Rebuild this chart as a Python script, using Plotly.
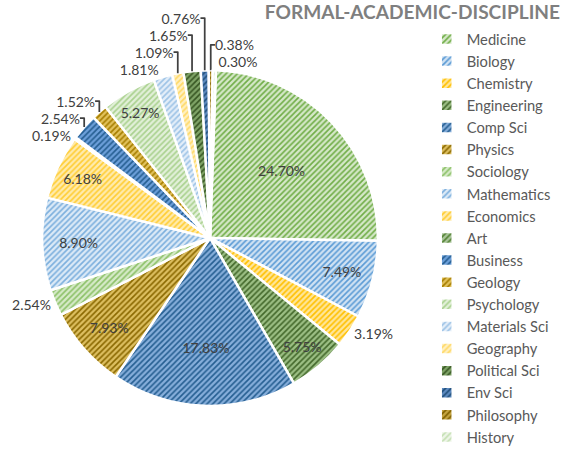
import plotly.graph_objects as go

disciplines = ["Medicine", "Biology", "Chemistry", "Engineering", "Comp Sci", "Physics",
               "Sociology", "Mathematics", "Economics", "Art", "Business", "Geology",
               "Psychology", "Materials Sci", "Geography", "Political Sci", "Env Sci",
               "Philosophy", "History"]
shares = [24.70, 7.49, 3.19, 5.75, 17.83, 7.93, 2.54, 8.90, 6.18, 0.19, 2.54, 1.52,
          5.27, 1.81, 1.09, 1.65, 0.76, 0.38, 0.30]

stripe_colors = ["#70AD47", "#5B9BD5", "#FFC000", "#43682B", "#255E91", "#8A6800",
                 "#8CC168", "#7CAFDD", "#FFCD33", "#548235", "#255E91", "#A67D00",
                 "#A9D18E", "#9DC3E6", "#FFD966", "#375623", "#1F4E79", "#7F6000",
                 "#C5E0B4"]
back_colors = ["#D5E8C8", "#D0E2F3", "#FFE699", "#9CBF84", "#86AEDB", "#DDBF60",
               "#D6EAC8", "#DCEAF7", "#FFEBAD", "#A9C59A", "#6C9FDA", "#E2C25C",
               "#E2F0D9", "#E4EEF9", "#FFF0C0", "#7FA467", "#5D8AC0", "#C4A440",
               "#EDF5E7"]

positions = ["inside" if v >= 5 else "outside" for v in shares]

fig = go.Figure(go.Pie(
    labels=disciplines,
    values=shares,
    sort=False,
    direction="clockwise",
    rotation=2.0,
    texttemplate="%{value:.2f}%",
    textposition=positions,
    insidetextorientation="horizontal",
    textfont=dict(family="Lato", size=14, color="#404040"),
    outsidetextfont=dict(family="Lato", size=14, color="#404040"),
    marker=dict(
        colors=back_colors,
        line=dict(color="white", width=2.5),
        pattern=dict(shape="/", fgcolor=stripe_colors, bgcolor=back_colors,
                     size=4, solidity=0.4, fillmode="replace"),
    ),
    domain=dict(x=[0.0734, 0.661], y=[0.098, 0.844]),
    hoverinfo="label+value",
))

fig.update_layout(
    width=572, height=450,
    margin=dict(l=0, r=0, t=0, b=0, autoexpand=False),
    paper_bgcolor="white",
    plot_bgcolor="white",
    font=dict(family="Lato", color="#595959"),
    title=dict(text="<b>FORMAL-ACADEMIC-DISCIPLINE</b>",
               x=560 / 572, xanchor="right", y=0.972, yanchor="middle",
               font=dict(family="Lato", size=19.1, color="#7F7F7F")),
    legend=dict(x=0.746, xanchor="left", y=0.949, yanchor="top",
                font=dict(family="Lato", size=14.7, color="#595959"),
                bgcolor="rgba(0,0,0,0)", traceorder="normal"),
)

fig.write_html("out.html", config={"displayModeBar": False},
               post_script="document.body.style.margin='0';")
